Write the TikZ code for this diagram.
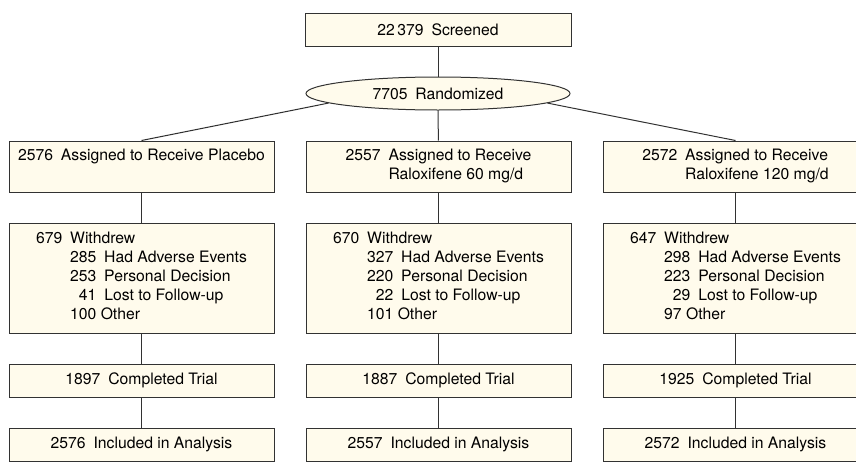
\documentclass[tikz,border=0pt]{standalone}
\usepackage{fontspec}
\setmainfont{TeX Gyre Heros}
\usetikzlibrary{shapes}
\definecolor{boxfill}{RGB}{255,251,236}
\definecolor{boxline}{RGB}{50,50,50}
\newcommand{\nsp}{\enspace}

\begin{document}
\begin{tikzpicture}[
  x=0.75pt,
  y=-0.75pt,
]

  \tikzstyle{flowbox}=[draw=boxline,rectangle,fill=boxfill,line width=0.75pt,minimum width=198.75pt,inner sep=0pt,node distance=222.75pt,font=\fontsize{11.8}{14.25}\selectfont]
  \tikzstyle{shortbox}=[flowbox,minimum height=24.75pt]
  \tikzstyle{armbox}=[flowbox,minimum height=38.25pt]
  \tikzstyle{outbox}=[flowbox,minimum height=82.5pt]
  \tikzstyle{randnode}=[flowbox,ellipse,minimum width=198pt,minimum height=24.75pt]
  \tikzstyle{link}=[draw=boxline,line width=0.75pt]

  \useasboundingbox (0,0) rectangle (856,464);

  % nodes
  \node[shortbox,minimum width=199.5pt] (scr) at (438,29.5) {22\,379\nsp Screened};
  \node[randnode] (rand) at (438,93.5) {7705\nsp Randomized};

  \node[armbox] (pa) at (141.5,166.5) {\begin{tabular}{@{}l@{}}2576\nsp Assigned to Receive Placebo\\ \mbox{}\end{tabular}};
  \node[armbox] (ma) [right of=pa] {\begin{tabular}{@{}l@{\nsp}l@{}}2557 & Assigned to Receive\\ & Raloxifene 60 mg/d\end{tabular}};
  \node[armbox] (ha) [right of=ma] {\begin{tabular}{@{}l@{\nsp}l@{}}2572 & Assigned to Receive\\ & Raloxifene 120 mg/d\end{tabular}};

  \node[outbox] (pw) at (141.5,278) {\begin{tabular}{@{}l@{\nsp}r@{\nsp}l@{}}
    679 & \multicolumn{2}{@{}l@{}}{Withdrew}\\
        & 285 & Had Adverse Events\\
        & 253 & Personal Decision\\
        & 41  & Lost to Follow-up\\
        & \multicolumn{2}{@{}l@{}}{100 Other}\end{tabular}};
  \node[outbox] (mw) [right of=pw] {\begin{tabular}{@{}l@{\nsp}r@{\nsp}l@{}}
    670 & \multicolumn{2}{@{}l@{}}{Withdrew}\\
        & 327 & Had Adverse Events\\
        & 220 & Personal Decision\\
        & 22  & Lost to Follow-up\\
        & \multicolumn{2}{@{}l@{}}{101 Other}\end{tabular}};
  \node[outbox] (hw) [right of=mw] {\begin{tabular}{@{}l@{\nsp}r@{\nsp}l@{}}
    647 & \multicolumn{2}{@{}l@{}}{Withdrew}\\
        & 298 & Had Adverse Events\\
        & 223 & Personal Decision\\
        & 29  & Lost to Follow-up\\
        & \multicolumn{2}{@{}l@{}}{97 Other}\end{tabular}};

  \node[shortbox] (pc) at (141.5,380.5) {1897\nsp Completed Trial};
  \node[shortbox] (mc) [right of=pc] {1887\nsp Completed Trial};
  \node[shortbox] (hc) [right of=mc] {1925\nsp Completed Trial};

  \node[shortbox] (pi) at (141.5,444.5) {2576\nsp Included in Analysis};
  \node[shortbox] (mi) [right of=pi] {2557\nsp Included in Analysis};
  \node[shortbox] (hi) [right of=mi] {2572\nsp Included in Analysis};

  % links
  \draw[link] (scr)      -- (rand);
  \draw[link] (rand.185) -- (pa.north);
  \draw[link] (rand)     -- (ma);
  \draw[link] (rand.355) -- (ha.north);

  \draw[link] (pa) -- (pw);
  \draw[link] (pw) -- (pc);
  \draw[link] (pc) -- (pi);

  \draw[link] (ma) -- (mw);
  \draw[link] (mw) -- (mc);
  \draw[link] (mc) -- (mi);

  \draw[link] (ha) -- (hw);
  \draw[link] (hw) -- (hc);
  \draw[link] (hc) -- (hi);

\end{tikzpicture}
\end{document}
